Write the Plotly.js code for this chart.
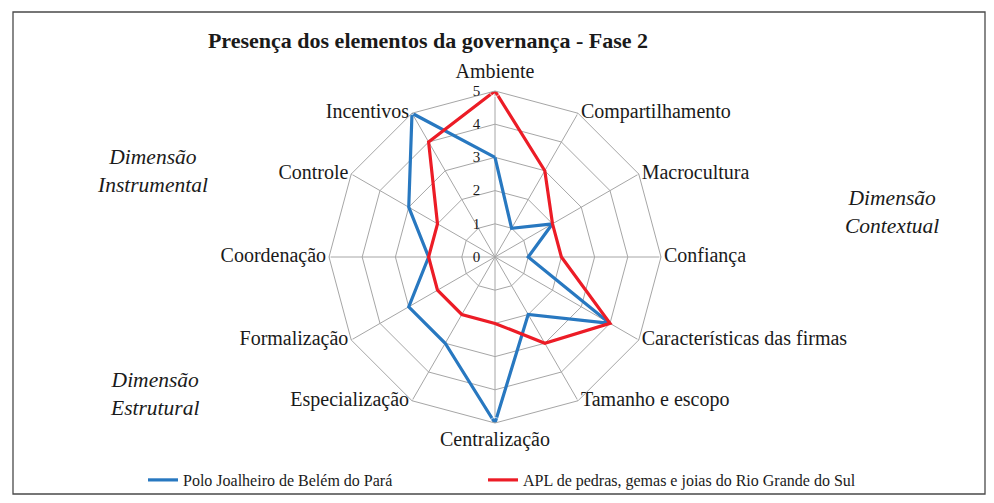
<!DOCTYPE html>
<html>
<head>
<meta charset="utf-8">
<script src="https://cdn.plot.ly/plotly-3.0.1.min.js"></script>
<style>html,body{margin:0;padding:0;background:#fff;}#chart{width:994px;height:503px;}</style>
</head>
<body>
<div id="chart"></div>
<script>
var categories = ["Ambiente", "Compartilhamento", "Macrocultura", "Confiança", "Características das firmas", "Tamanho e escopo", "Centralização", "Especialização", "Formalização", "Coordenação", "Controle", "Incentivos"];
var seriesNames = ["Polo Joalheiro de Belém do Pará", "APL de pedras, gemas e joias do Rio Grande do Sul"];
var belem = [3, 1, 2, 1, 4, 2, 5, 3, 3, 2, 3, 5];
var rioGrande = [5, 3, 2, 2, 4, 3, 2, 2, 2, 2, 2, 4];
var radialTicks = [0, 1, 2, 3, 4, 5];
var chartTitle = "Presença dos elementos da governança - Fase 2";
var dimensionLabels = ["Dimensão<br>Instrumental", "Dimensão<br>Contextual", "Dimensão<br>Estrutural"];
var labelPositions = ["top center", "middle right", "middle right", "middle right", "middle right", "middle right",
                      "bottom center", "middle left", "middle left", "middle left", "middle left", "middle left"];

function closeLoop(arr) { return arr.concat([arr[0]]); }

var W = 994, H = 503;
var cx = 495, cy = 257, R = 166;
var serif = "Liberation Serif";
var rMax = radialTicks[radialTicks.length - 1];

var traces = [
  {
    type: "scatterpolar", mode: "lines",
    r: closeLoop(belem), theta: closeLoop(categories),
    name: seriesNames[0], legend: "legend",
    line: {color: "#2878c0", width: 3.2},
    hoverinfo: "skip"
  },
  {
    type: "scatterpolar", mode: "lines",
    r: closeLoop(rioGrande), theta: closeLoop(categories),
    name: seriesNames[1], legend: "legend2",
    line: {color: "#ec1c26", width: 3.2},
    hoverinfo: "skip"
  },
  {
    type: "scatterpolar", mode: "markers+text",
    r: categories.map(function () { return rMax; }), theta: categories,
    text: categories, textposition: labelPositions,
    marker: {
      size: labelPositions.map(function (p) { return p.indexOf("center") >= 0 ? 11 : 3; }),
      color: "rgba(0,0,0,0)"
    },
    textfont: {family: serif, size: 20, color: "#1a1a1a"},
    cliponaxis: false, showlegend: false, hoverinfo: "skip"
  }
];

var legendFont = {family: serif, size: 16, color: "#1a1a1a"};

var layout = {
  width: W, height: H,
  margin: {l: 0, r: 0, t: 0, b: 0},
  paper_bgcolor: "#ffffff",
  font: {family: serif, color: "#1a1a1a"},
  title: {
    text: "<b>" + chartTitle + "</b>",
    font: {family: serif, size: 22, color: "#1a1a1a"},
    x: 428 / W, xanchor: "center",
    y: 1 - 40 / H, yanchor: "middle"
  },
  polar: {
    domain: {x: [(cx - R) / W, (cx + R) / W], y: [(H - cy - R) / H, (H - cy + R) / H]},
    gridshape: "linear",
    bgcolor: "rgba(0,0,0,0)",
    radialaxis: {
      range: [0, rMax], angle: 90, side: "counterclockwise",
      tickvals: radialTicks, ticktext: radialTicks.map(String),
      tickangle: 90,
      showline: false, ticks: "outside", ticklen: 9, tickcolor: "rgba(0,0,0,0)",
      gridcolor: "#a6a6a6", gridwidth: 1,
      tickfont: {family: serif, size: 15, color: "#1a1a1a"}
    },
    angularaxis: {
      rotation: 90, direction: "clockwise",
      showline: true, linecolor: "#a6a6a6", linewidth: 1,
      gridcolor: "#a6a6a6", gridwidth: 1, ticks: "",
      showticklabels: false
    }
  },
  showlegend: true,
  legend: {
    orientation: "h",
    x: 143 / W, xanchor: "left",
    y: 1 - 480 / H, yanchor: "middle",
    font: legendFont, bgcolor: "rgba(0,0,0,0)"
  },
  legend2: {
    orientation: "h",
    x: 483 / W, xanchor: "left",
    y: 1 - 480 / H, yanchor: "middle",
    font: legendFont, bgcolor: "rgba(0,0,0,0)"
  },
  shapes: [
    {type: "rect", xref: "paper", yref: "paper",
     x0: 13 / W, x1: 985 / W, y0: 1 - 494 / H, y1: 1 - 12 / H,
     line: {color: "#4a4a4a", width: 1.3}, fillcolor: "rgba(0,0,0,0)"}
  ],
  annotations: [
    {text: "<i>" + dimensionLabels[0] + "</i>", x: 152 / W, y: 1 - 171 / H, xref: "paper", yref: "paper",
     showarrow: false, font: {family: serif, size: 21.5, color: "#1a1a1a"}, xanchor: "center", yanchor: "middle"},
    {text: "<i>" + dimensionLabels[1] + "</i>", x: 892 / W, y: 1 - 212 / H, xref: "paper", yref: "paper",
     showarrow: false, font: {family: serif, size: 21.5, color: "#1a1a1a"}, xanchor: "center", yanchor: "middle"},
    {text: "<i>" + dimensionLabels[2] + "</i>", x: 154 / W, y: 1 - 394 / H, xref: "paper", yref: "paper",
     showarrow: false, font: {family: serif, size: 21.5, color: "#1a1a1a"}, xanchor: "center", yanchor: "middle"}
  ]
};

Plotly.newPlot("chart", traces, layout, {displayModeBar: false, staticPlot: true});
</script>
</body>
</html>
